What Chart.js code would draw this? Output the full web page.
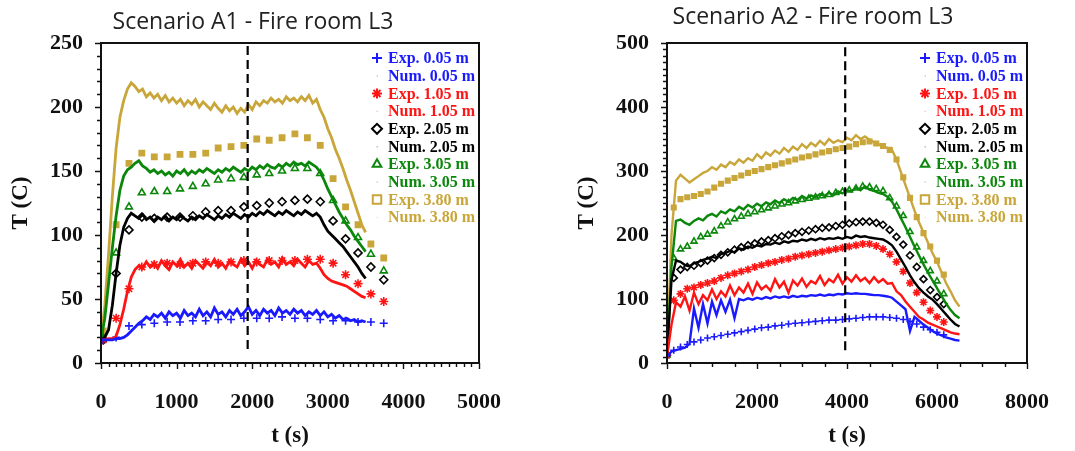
<!DOCTYPE html>
<html>
<head>
<meta charset="utf-8">
<script src="https://cdn.jsdelivr.net/npm/chart.js@4.4.1/dist/chart.umd.min.js"></script>
<style>
  html, body { margin: 0; padding: 0; background: #fff; width: 1075px; height: 451px; overflow: hidden; }
  .panel { position: absolute; top: 0; height: 451px; }
  .title { position: absolute; font-family: "Open Sans"; font-size: 23px; color: #222; white-space: nowrap; transform: translate(-50%, -50%); }
</style>
</head>
<body>
<div class="panel" style="left:0;width:540px"><canvas id="c1" width="540" height="451"></canvas></div>
<div class="panel" style="left:540px;width:535px"><canvas id="c2" width="535" height="451"></canvas></div>
<div class="title" style="left:253px;top:20px">Scenario A1 - Fire room L3</div>
<div class="title" style="left:813px;top:15px">Scenario A2 - Fire room L3</div>
<script>
// ---- Scenario A1 (left) ----
const a1NumT = [0,50,100,150,200,250,300,350,400,450,500,550,600,650,700,750,800,850,900,950,
  1000,1050,1100,1150,1200,1250,1300,1350,1400,1450,1500,1550,1600,1650,1700,1750,1800,1850,1900,1950,
  2000,2050,2100,2150,2200,2250,2300,2350,2400,2450,2500,2550,2600,2650,2700,2750,2800,2850,2900,2950,
  3000,3050,3100,3150,3200,3250,3300,3350,3400,3450,3500];
const a1Num005 = [18,18,18,18,19,19,20,22,25,28,31,33,36,34,38,36,39,35,40,37,
  39,35,41,37,39,36,42,37,40,36,43,38,40,36,41,38,42,37,40,44,
  38,41,37,42,39,41,37,43,39,41,38,42,39,41,37,40,38,41,37,40,
  36,38,35,37,34,35,33,34,32,33,32];
const a1Num105 = [18,18,19,19,21,30,42,56,67,73,76,74,79,75,78,74,80,76,73,79,
  76,81,75,78,74,80,77,74,79,76,81,75,78,74,80,77,75,81,76,79,
  74,80,77,75,81,77,79,75,82,77,79,76,81,78,75,80,77,78,74,69,
  66,64,63,62,61,60,58,56,54,52,51];
const a1Num205 = [18,20,26,45,70,92,106,113,117,115,113,116,112,114,111,114,112,115,111,114,
  112,115,113,111,114,112,115,113,116,114,112,115,113,116,114,117,115,113,116,114,
  117,115,118,116,119,117,115,118,116,119,117,115,118,116,119,117,115,117,114,108,
  103,100,97,94,91,87,83,79,75,70,66];
const a1Num305 = [18,35,62,90,115,135,146,151,153,156,158,154,152,149,151,148,150,147,149,146,
  150,148,151,147,150,148,151,149,152,150,148,151,149,152,150,153,151,149,152,150,
  153,151,154,152,155,153,152,155,153,156,154,157,155,156,154,157,155,153,149,143,
  136,130,124,118,113,108,104,99,95,91,87];
const a1Num380 = [18,45,85,130,168,192,205,214,219,216,212,214,208,211,207,210,205,209,204,207,
  203,206,201,205,202,206,200,204,201,198,203,199,196,201,197,200,195,199,196,202,
  198,204,201,205,203,207,204,206,203,208,205,207,204,208,205,209,203,206,198,192,
  183,176,167,160,152,143,135,126,117,108,102];

const a1ExpT = [30,200,370,540,705,875,1045,1215,1385,1550,1720,1890,2060,2225,2395,2565,2730,2900,3070,3235,3400,3570,3740];
const a1Exp005 = [18,20,29,30,31,32,32,33,33,34,34,35,35,35,36,35,35,34,33,33,32,32,31];
const a1Exp105 = [18,35,58,75,77,78,77,78,79,78,79,80,79,80,80,80,81,81,78,69,62,54,48];
const a1Exp205 = [18,70,104,114,113,114,114,115,118,119,119,122,123,125,126,127,128,126,111,97,86,75,65];
const a1Exp305 = [20,86,122,133,134,134,136,138,140,143,144,145,147,148,150,152,152,148,127,111,98,85,72];
const a1Exp380 = [25,108,156,164,161,161,163,163,164,168,169,170,175,174,176,179,176,170,144,122,108,93,82];
const a1Marker = 1940;

// ---- Scenario A2 (right) ----
const a2NumT = [0,100,200,300,400,500,600,700,800,900,1000,1100,1200,1300,1400,1500,1600,1700,1800,1900,
  2000,2100,2200,2300,2400,2500,2600,2700,2800,2900,3000,3100,3200,3300,3400,3500,3600,3700,3800,3900,
  4000,4100,4200,4300,4400,4500,4600,4700,4800,4900,5000,5100,5200,5300,5400,5500,5600,5700,5800,5900,
  6000,6100,6200,6300,6400,6500];
const a2Num005 = [10,18,20,22,24,30,85,55,92,62,96,75,98,80,99,70,100,98,101,99,
  102,100,103,101,104,102,104,102,105,103,105,104,106,105,107,105,107,106,108,107,
  109,108,109,108,108,107,106,106,105,104,102,96,90,84,50,72,66,60,55,50,
  46,43,40,38,36,35];
const a2Num105 = [10,60,95,88,104,82,110,92,106,98,115,100,112,104,121,106,118,110,124,108,
  126,115,121,113,131,118,127,110,129,121,132,119,128,124,136,122,131,126,138,124,
  134,127,137,128,133,125,134,126,131,124,125,112,106,96,88,80,72,68,63,60,
  57,54,51,48,46,45];
const a2Num205 = [10,130,160,158,153,151,156,158,161,163,166,164,170,172,175,173,179,177,182,180,
  184,182,186,185,188,186,190,188,191,190,193,191,194,192,195,193,195,194,196,194,
  197,195,199,197,198,196,195,194,193,189,184,174,162,150,137,126,117,110,104,99,
  92,84,76,68,61,57];
const a2Num305 = [10,150,222,224,219,216,222,226,223,230,233,229,237,234,240,237,244,240,247,243,
  249,245,251,248,254,250,256,252,258,255,261,257,262,259,264,261,266,262,268,265,
  270,268,274,270,276,271,269,266,264,260,252,240,226,212,197,182,168,154,141,129,
  117,105,93,83,75,70];
const a2Num380 = [10,200,285,294,288,282,287,292,297,300,306,302,310,306,314,310,318,313,320,316,
  326,320,329,324,332,327,336,330,338,333,342,336,344,339,347,341,350,344,348,345,
  352,348,356,350,354,349,345,342,338,336,333,318,298,278,258,238,220,204,188,172,
  158,142,125,112,98,88];

const a2ExpT = [0,150,300,450,600,750,900,1050,1200,1350,1500,1650,1800,1950,2100,2250,2400,2550,2700,2850,
  3000,3150,3300,3450,3600,3750,3900,4050,4200,4350,4500,4650,4800,4950,5100,5250,5400,5550,5700,5850,6000,6150];
const a2Exp005 = [12,20,25,29,33,36,39,41,43,45,47,49,51,53,55,56,58,59,61,62,
  63,64,65,66,67,67,68,69,70,71,72,72,72,71,70,68,65,61,56,52,48,44];
const a2Exp105 = [12,98,108,116,118,122,125,128,133,137,140,143,146,150,153,156,158,161,163,166,
  168,170,172,174,176,178,180,182,184,186,186,183,178,170,158,143,125,110,95,82,72,64];
const a2Exp205 = [12,133,146,150,152,156,160,164,169,173,177,181,184,187,190,192,195,198,200,203,
  205,207,209,211,212,214,216,218,220,221,221,219,216,208,197,185,168,150,131,114,103,92];
const a2Exp305 = [12,164,178,182,190,197,201,206,214,220,225,229,233,236,239,242,245,248,250,253,
  255,257,259,261,263,266,268,270,273,276,275,272,269,258,245,230,205,181,160,144,128,108];
const a2Exp380 = [12,243,256,259,261,264,268,274,280,285,289,293,297,300,303,306,309,312,315,318,
  321,323,326,329,331,334,336,338,342,345,346,343,339,333,318,290,258,228,203,182,160,138];
const a2Marker = 3960;

const heights = ['0.05', '1.05', '2.05', '3.05', '3.80'];
const colors = ['#1a1aff', '#ff1414', '#000000', '#0b870b', '#c9a63a'];
const styles = ['cross', 'star', 'rectRot', 'triangle', 'rect'];

function pts(xs, ys) {
  return ys.map((y, i) => ({ x: xs[i], y: y }));
}

function buildDatasets(numT, nums, expT, exps, marker, yTop, r, lw) {
  const sets = [];
  heights.forEach((h, i) => {
    sets.push({
      label: 'Exp. ' + h + ' m',
      data: pts(expT, exps[i]),
      showLine: false,
      pointStyle: styles[i],
      pointRadius: i === 4 ? r - 0.3 : (i === 1 ? r + 0.5 : r),
      pointBorderWidth: 1.6,
      borderColor: colors[i],
      backgroundColor: i === 4 ? colors[i] : 'rgba(0,0,0,0)',
      order: 3,
    });
    sets.push({
      label: 'Num. ' + h + ' m',
      data: pts(numT, nums[i]),
      showLine: true,
      pointRadius: 0,
      borderWidth: lw,
      borderColor: colors[i],
      backgroundColor: colors[i],
      order: 2,
    });
  });
  sets.push({
    label: '',
    data: [{ x: marker, y: yTop[0] }, { x: marker, y: yTop[1] }],
    showLine: true,
    pointRadius: 0,
    borderWidth: 2.2,
    borderDash: [9, 5],
    borderColor: '#000',
    order: 0,
  });
  return sets;
}

// box, minor ticks and the legend inside the plot
const framePlugin = {
  id: 'frame',
  afterDraw(chart, args, opts) {
    const { ctx, chartArea: a } = chart;
    const x = chart.scales.x, y = chart.scales.y;
    ctx.save();
    ctx.strokeStyle = '#111';
    ctx.lineWidth = 1.4;
    ctx.beginPath();
    for (let v = x.min; v <= x.max + 0.001; v += opts.xMinor) {
      const px = Math.round(x.getPixelForValue(v)) + 0.5;
      const len = v % opts.xMajor === 0 ? 6 : 4;
      ctx.moveTo(px, a.bottom); ctx.lineTo(px, a.bottom + len);
    }
    for (let v = y.min; v <= y.max + 0.001; v += opts.yMinor) {
      const py = Math.round(y.getPixelForValue(v)) + 0.5;
      const len = v % opts.yMajor === 0 ? 6 : 4;
      ctx.moveTo(a.left, py); ctx.lineTo(a.left - len, py);
    }
    ctx.stroke();
    ctx.lineWidth = 2;
    ctx.strokeRect(a.left, a.top, a.right - a.left, a.bottom - a.top);

    // legend
    ctx.font = 'bold 16px "Liberation Serif"';
    ctx.textBaseline = 'middle';
    ctx.textAlign = 'left';
    const items = chart.data.datasets.filter(d => d.label);
    items.forEach((d, i) => {
      const ry = a.top + 15 + i * 17.7;
      const mx = a.right - 102;
      ctx.fillStyle = d.borderColor;
      ctx.strokeStyle = d.borderColor;
      if (d.showLine) {
        ctx.globalAlpha = 0.25;
        ctx.fillRect(mx - 0.5, ry - 0.5, 1.5, 1.5);
        ctx.globalAlpha = 1;
      } else {
        ctx.fillStyle = 'rgba(0,0,0,0)';
        Chart.helpers.drawPoint(ctx, { pointStyle: d.pointStyle, radius: d.pointStyle === 'rect' ? 6 : 5, borderWidth: 1.3, rotation: 0 }, mx, ry);
      }
      ctx.fillStyle = d.borderColor;
      ctx.fillText(d.label, a.right - 91, ry + 1);
    });
    ctx.restore();
  }
};

const tickFont = { family: '"Liberation Serif"', size: 22, weight: 'bold' };

function makeChart(id, datasets, cfg) {
  return new Chart(document.getElementById(id), {
    type: 'scatter',
    data: { datasets: datasets },
    options: {
      responsive: false,
      animation: false,
      layout: { padding: { top: 43, right: cfg.padRight, left: 0, bottom: 0 } },
      plugins: {
        legend: { display: false },
        tooltip: { enabled: false },
        frame: cfg.frame,
      },
      scales: {
        x: {
          type: 'linear', min: 0, max: cfg.xMax,
          grid: { display: false, drawTicks: false },
          border: { display: false },
          ticks: { stepSize: cfg.xStep, font: tickFont, color: '#111', padding: 26, maxRotation: 0,
            callback: (v) => String(v) },
          title: { display: true, text: 't (s)', font: { family: '"Liberation Serif"', size: 23, weight: 'bold' }, color: '#111', padding: { top: 0, bottom: 1 } },
          afterFit: (s) => { s.height = 88; },
        },
        y: {
          type: 'linear', min: 0, max: cfg.yMax,
          grid: { display: false, drawTicks: false },
          border: { display: false },
          ticks: { stepSize: cfg.yStep, font: tickFont, color: '#111', padding: 18,
            callback: (v) => String(v) },
          title: { display: true, text: 'T (C)', font: { family: '"Liberation Serif"', size: 23, weight: 'bold' }, color: '#111', padding: { top: cfg.yTitlePad, bottom: 0 } },
          afterFit: (s) => { s.width = cfg.yWidth; },
        },
      },
    },
    plugins: [framePlugin],
  });
}

makeChart('c1',
  buildDatasets(a1NumT, [a1Num005, a1Num105, a1Num205, a1Num305, a1Num380], a1ExpT,
    [a1Exp005, a1Exp105, a1Exp205, a1Exp305, a1Exp380], a1Marker, [11, 250], 4, 2.8),
  { xMax: 5000, xStep: 1000, yMax: 250, yStep: 50, padRight: 61, yWidth: 101, yTitlePad: 7,
    frame: { xMinor: 100, xMajor: 1000, yMinor: 10, yMajor: 50 } });

makeChart('c2',
  buildDatasets(a2NumT, [a2Num005, a2Num105, a2Num205, a2Num305, a2Num380], a2ExpT,
    [a2Exp005, a2Exp105, a2Exp205, a2Exp305, a2Exp380], a2Marker, [20, 500], 3.5, 2.4),
  { xMax: 8000, xStep: 2000, yMax: 500, yStep: 100, padRight: 27, yWidth: 127, yTitlePad: 33,
    frame: { xMinor: 500, xMajor: 2000, yMinor: 10, yMajor: 100 } });
</script>
</body>
</html>
